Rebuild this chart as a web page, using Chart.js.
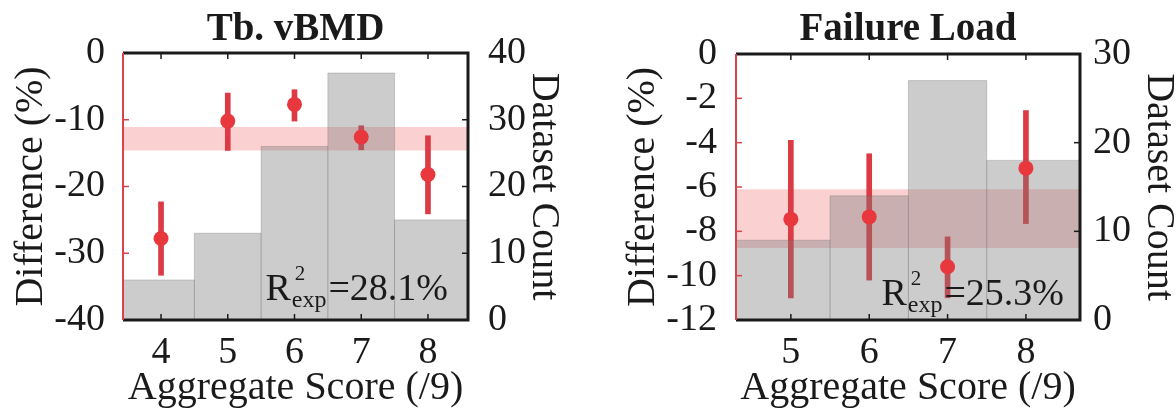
<!DOCTYPE html>
<html>
<head>
<meta charset="utf-8">
<script src="https://cdn.jsdelivr.net/npm/chart.js@4.4.1/dist/chart.umd.min.js"></script>
<style>
  html, body { margin: 0; padding: 0; background: #fff; }
  #wrap { position: relative; width: 1176px; height: 408px; }
  canvas { position: absolute; top: 0; }
</style>
</head>
<body>
<div id="wrap">
  <canvas id="bmdChart" width="590" height="408" style="left:0"></canvas>
  <canvas id="loadChart" width="586" height="408" style="left:590px"></canvas>
</div>
<script>
// Tb. vBMD panel
const scoresBMD = [4, 5, 6, 7, 8];
const countBMD = [6, 13, 26, 37, 15];
const diffBMD = [-27.8, -10.2, -7.7, -12.6, -18.2];
const diffLoBMD = [-33.3, -14.6, -10.2, -14.5, -24.1];
const diffHiBMD = [-22.3, -6.0, -5.5, -10.9, -12.4];
const bandBMD = [-14.6, -11.1];
const diffTicksBMD = [-40, -30, -20, -10, 0];
const countTicksBMD = [0, 10, 20, 30, 40];

// Failure Load panel
const scoresLoad = [5, 6, 7, 8];
const countLoad = [9, 14, 27, 18];
const diffLoad = [-7.45, -7.35, -9.6, -5.15];
const diffLoLoad = [-11.0, -10.2, -11.0, -7.65];
const diffHiLoad = [-3.9, -4.5, -8.25, -2.55];
const bandLoad = [-8.75, -6.1];
const diffTicksLoad = [-12, -10, -8, -6, -4, -2, 0];
const countTicksLoad = [0, 10, 20, 30];

const SERIF = "'Liberation Serif', 'Times New Roman', serif";
const INK = '#1a1a1a';
const RED = '#e8383e';
const BAR_RED = '#dc3a44';
const AXIS_RED = '#d9434b';

// frame, inward tick marks and the R² note
const framePlugin = {
  id: 'frame',
  afterDatasetsDraw(chart, args, o) {
    const { ctx, chartArea: a, scales } = chart;
    const tl = 6;
    const seg = (x1, y1, x2, y2) => { ctx.beginPath(); ctx.moveTo(x1, y1); ctx.lineTo(x2, y2); ctx.stroke(); };
    ctx.save();
    ctx.lineWidth = 1.5;
    ctx.strokeStyle = INK;
    scales.x.ticks.forEach(t => {
      const px = scales.x.getPixelForValue(t.value);
      seg(px, a.top, px, a.top + tl);
      seg(px, a.bottom, px, a.bottom - tl);
    });
    scales.y1.ticks.forEach(t => {
      const py = scales.y1.getPixelForValue(t.value);
      seg(a.right, py, a.right - tl, py);
    });
    ctx.strokeStyle = AXIS_RED;
    scales.y.ticks.forEach(t => {
      const py = scales.y.getPixelForValue(t.value);
      seg(a.left, py, a.left + tl, py);
    });

    ctx.lineWidth = 3;
    ctx.strokeStyle = INK;
    ctx.beginPath();
    ctx.moveTo(a.left, a.top);
    ctx.lineTo(a.right, a.top);
    ctx.lineTo(a.right, a.bottom);
    ctx.lineTo(a.left, a.bottom);
    ctx.stroke();
    ctx.lineWidth = 2;
    ctx.strokeStyle = AXIS_RED;
    seg(a.left, a.top, a.left, a.bottom);

    // R²exp label
    const big = '38px ' + SERIF, small = '24px ' + SERIF;
    ctx.font = big;
    const wR = ctx.measureText('R').width;
    const wV = ctx.measureText('=' + o.r2).width;
    ctx.font = small;
    const wS = ctx.measureText('exp').width;
    let x = a.right - o.r2Right - wV - wS - wR - 3;
    const base = a.bottom - o.r2Bottom;
    ctx.fillStyle = INK;
    ctx.textAlign = 'left';
    ctx.textBaseline = 'alphabetic';
    ctx.font = big;
    ctx.fillText('R', x, base);
    x += wR;
    ctx.font = small;
    ctx.fillText('exp', x + 1, base + 7);
    ctx.font = '21px ' + SERIF;
    ctx.fillText('2', x + 4, base - 20);
    x += wS + 3;
    ctx.font = big;
    ctx.fillText('=' + o.r2, x, base);
    ctx.restore();
  }
};

function makePanel(id, p) {
  const xMin = p.xRange[0], xMax = p.xRange[1];
  // count histogram as a filled stepped line, edges halfway between scores
  const hist = p.scores.map((s, i) => ({ x: i === 0 ? xMin : s - 0.5, y: p.counts[i] }));
  hist.push({ x: xMax, y: p.counts[p.counts.length - 1] });
  const dividers = [];
  for (let i = 1; i < p.scores.length; i++) {
    const x = p.scores[i] - 0.5;
    dividers.push({ x, y: 0 }, { x, y: Math.min(p.counts[i - 1], p.counts[i]) }, { x, y: null });
  }
  const clear = 'rgba(0,0,0,0)';
  const tickFont = { family: SERIF, size: 38 };
  const axisTitleFont = { family: SERIF, size: 40, lineHeight: 0.8 };

  new Chart(document.getElementById(id), {
    type: 'line',
    data: {
      datasets: [
        {
          label: 'mean', data: p.scores.map((s, i) => ({ x: s, y: p.diff[i] })),
          showLine: false, pointRadius: 7.5, pointHoverRadius: 7.5, pointBorderWidth: 0,
          pointBackgroundColor: RED, borderColor: clear, yAxisID: 'y', order: 0
        },
        {
          label: 'count', data: hist, stepped: 'before', fill: 'origin',
          backgroundColor: 'rgba(120,120,120,0.38)', borderColor: 'rgba(110,110,110,0.3)',
          borderWidth: 1, pointRadius: 0, yAxisID: 'y1', order: 1
        },
        {
          label: 'edges', data: dividers, fill: false, borderColor: 'rgba(110,110,110,0.5)',
          borderWidth: 1, pointRadius: 0, yAxisID: 'y1', order: 1
        },
        {
          type: 'bar', label: 'ci', data: p.scores.map((s, i) => ({ x: s, y: [p.lo[i], p.hi[i]] })),
          backgroundColor: BAR_RED, barThickness: 5, yAxisID: 'y', order: 2
        },
        {
          label: 'bandLo', data: [{ x: xMin, y: p.band[0] }, { x: xMax, y: p.band[0] }],
          fill: false, borderColor: clear, borderWidth: 0, pointRadius: 0, yAxisID: 'y', order: 3
        },
        {
          label: 'bandHi', data: [{ x: xMin, y: p.band[1] }, { x: xMax, y: p.band[1] }],
          fill: '-1', backgroundColor: 'rgba(240,100,100,0.3)', borderColor: clear, borderWidth: 0,
          pointRadius: 0, yAxisID: 'y', order: 3
        }
      ]
    },
    options: {
      responsive: false,
      animation: false,
      events: [],
      layout: { padding: 0 },
      plugins: {
        legend: { display: false },
        tooltip: { enabled: false },
        frame: { r2: p.r2, r2Right: p.r2Right, r2Bottom: p.r2Bottom }
      },
      scales: {
        x: {
          type: 'linear', position: 'bottom', min: xMin, max: xMax, offset: false,
          afterBuildTicks: s => { s.ticks = p.scores.map(v => ({ value: v })); },
          afterFit: s => { s.height = 88; },
          grid: { display: false }, border: { display: false },
          ticks: { font: tickFont, color: INK, padding: 2, maxRotation: 0, autoSkip: false },
          title: {
            display: true, text: 'Aggregate Score (/9)', color: INK,
            font: { family: SERIF, size: 40, lineHeight: 0.8 }, padding: { top: 0, bottom: 4 }
          }
        },
        xTop: {
          type: 'linear', position: 'top', min: xMin, max: xMax, offset: false,
          afterFit: s => { s.height = p.topH; },
          grid: { display: false }, border: { display: false }, ticks: { display: false },
          title: {
            display: true, text: p.title, color: INK,
            font: { family: SERIF, size: 39, weight: 'bold', lineHeight: 1 }, padding: { top: 10, bottom: 0 }
          }
        },
        y: {
          type: 'linear', position: 'left', min: p.diffTicks[0], max: p.diffTicks[p.diffTicks.length - 1],
          afterBuildTicks: s => { s.ticks = p.diffTicks.map(v => ({ value: v })); },
          afterFit: s => { s.width = p.leftW; },
          grid: { display: false }, border: { display: false },
          ticks: { font: tickFont, color: INK, padding: p.leftPad, autoSkip: false },
          title: {
            display: true, text: 'Difference (%)', color: INK,
            font: axisTitleFont, padding: { top: p.leftTitlePad, bottom: 0 }
          }
        },
        y1: {
          type: 'linear', position: 'right', min: 0, max: p.countTicks[p.countTicks.length - 1],
          afterBuildTicks: s => { s.ticks = p.countTicks.map(v => ({ value: v })); },
          afterFit: s => { s.width = p.rightW; },
          grid: { display: false }, border: { display: false },
          ticks: { font: tickFont, color: INK, padding: p.rightPad, autoSkip: false },
          title: {
            display: true, text: 'Dataset Count', color: INK,
            font: axisTitleFont, padding: { top: p.rightTitlePad, bottom: 0 }
          }
        }
      }
    },
    plugins: [framePlugin]
  });
}

makePanel('bmdChart', {
  title: 'Tb. vBMD', scores: scoresBMD, counts: countBMD, diff: diffBMD,
  lo: diffLoBMD, hi: diffHiBMD, band: bandBMD, diffTicks: diffTicksBMD, countTicks: countTicksBMD,
  xRange: [3.43, 8.6], r2: '28.1%', r2Right: 20, r2Bottom: 20,
  leftW: 123, rightW: 122, topH: 53, leftPad: 10, rightPad: 12, leftTitlePad: 15, rightTitlePad: 31
});

makePanel('loadChart', {
  title: 'Failure Load', scores: scoresLoad, counts: countLoad, diff: diffLoad,
  lo: diffLoLoad, hi: diffHiLoad, band: bandLoad, diffTicks: diffTicksLoad, countTicks: countTicksLoad,
  xRange: [4.3, 8.69], r2: '25.3%', r2Right: 16, r2Bottom: 15,
  leftW: 146, rightW: 96, topH: 54, leftPad: 11, rightPad: 5, leftTitlePad: 37, rightTitlePad: 2
});
</script>
</body>
</html>
